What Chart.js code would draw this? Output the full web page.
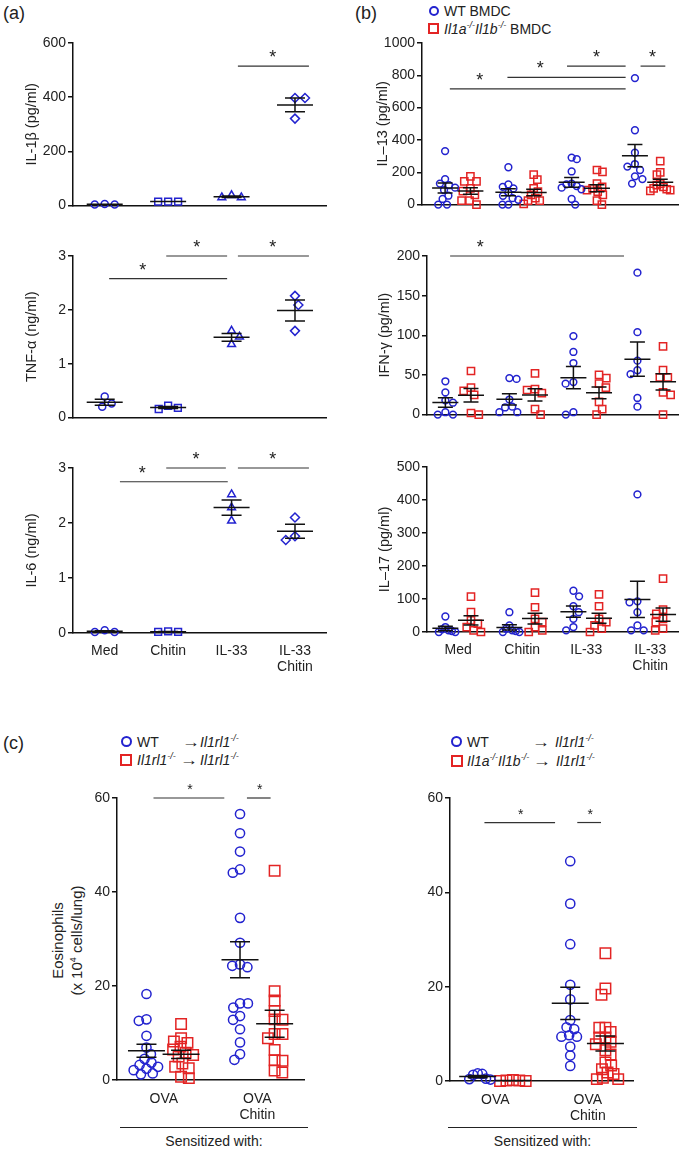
<!DOCTYPE html>
<html>
<head>
<meta charset="utf-8">
<script src="https://cdn.jsdelivr.net/npm/chart.js@4.4.1/dist/chart.umd.min.js"></script>
<style>
  body { margin: 0; background: #fff; }
  #fig { position: relative; width: 686px; height: 1149px; overflow: hidden; font-family: Arial, "Liberation Sans", sans-serif; color: #222; }
  #fig canvas { position: absolute; }
  .txt { position: absolute; white-space: nowrap; line-height: 1; font-size: 14px; }
  .tag { font-size: 18px; }
  .sym { position: absolute; box-sizing: border-box; border: 2.5px solid; }
  .circ { border-radius: 50%; border-color: #2323cf; }
  .sq { border-color: #e32424; }
  sup { font-size: 9px; vertical-align: 0; position: relative; top: -6px; }
  .rule { position: absolute; height: 0; border-top: 1.2px solid #222; }
  .arr { font-size: 15px; transform: scaleX(1.2); transform-origin: left; }
</style>
</head>
<body>
<div id="fig">
  <div class="txt tag" style="left:3px;top:4px">(a)</div>
  <div class="txt tag" style="left:355px;top:4px">(b)</div>
  <div class="txt tag" style="left:3px;top:734px">(c)</div>

  <!-- legend (b) -->
  <div class="sym circ" style="left:429px;top:6px;width:10px;height:10px"></div>
  <div class="txt" style="left:444px;top:4px">WT BMDC</div>
  <div class="sym sq" style="left:428px;top:23px;width:11px;height:11px"></div>
  <div class="txt" style="left:444px;top:22px"><i>Il1a<sup>-/-</sup>Il1b<sup>-/-</sup></i> BMDC</div>

  <!-- legend (c) left -->
  <div class="sym circ" style="left:121px;top:736px;width:11px;height:11px"></div>
  <div class="txt" style="left:137px;top:735px">WT</div>
  <div class="txt arr" style="left:182px;top:734px">→</div>
  <div class="txt" style="left:200px;top:735px"><i>Il1rl1<sup>-/-</sup></i></div>
  <div class="sym sq" style="left:120px;top:754px;width:12px;height:12px"></div>
  <div class="txt" style="left:137px;top:753px"><i>Il1rl1<sup>-/-</sup></i></div>
  <div class="txt arr" style="left:180px;top:752px">→</div>
  <div class="txt" style="left:200px;top:753px"><i>Il1rl1<sup>-/-</sup></i></div>

  <!-- legend (c) right -->
  <div class="sym circ" style="left:451px;top:736px;width:11px;height:11px"></div>
  <div class="txt" style="left:467px;top:735px">WT</div>
  <div class="txt arr" style="left:532px;top:734px">→</div>
  <div class="txt" style="left:555px;top:735px"><i>Il1rl1<sup>-/-</sup></i></div>
  <div class="sym sq" style="left:451px;top:755px;width:12px;height:12px"></div>
  <div class="txt" style="left:467px;top:754px"><i>Il1a<sup>-/-</sup>Il1b<sup>-/-</sup></i></div>
  <div class="txt arr" style="left:533px;top:753px">→</div>
  <div class="txt" style="left:556px;top:754px"><i>Il1rl1<sup>-/-</sup></i></div>

  <div class="txt" style="left:-32px;top:920px;width:200px;line-height:19px;font-size:15px;text-align:center;transform:rotate(-90deg)">Eosinophils<br>(x 10<sup>4</sup> cells/lung)</div>

  <div class="rule" style="left:120px;top:1127px;width:188px"></div>
  <div class="txt" style="left:120px;top:1134px;width:188px;text-align:center">Sensitized with:</div>
  <div class="rule" style="left:448px;top:1127px;width:189px"></div>
  <div class="txt" style="left:448px;top:1134px;width:189px;text-align:center">Sensitized with:</div>
</div>
<script>
const stimuli = ['Med', 'Chitin', 'IL-33', ['IL-33', 'Chitin']];
const sensitizers = ['OVA', ['OVA', 'Chitin']];

// (a) WT BMDC, one list per stimulus
const il1b = [[6, 4, 4], [15, 15, 15], [38, 30, 30], [397, 397, 321]];
const tnf = [[0.39, 0.20, 0.26], [0.22, 0.16, 0.18], [1.61, 1.50, 1.36], [2.26, 2.09, 1.61]];
const il6 = [[0.05, 0.02, 0.02], [0.03, 0.02, 0.02], [2.52, 2.28, 2.04], [2.10, 1.69, 1.76]];

// (b) WT vs Il1a/Il1b deficient BMDC
const il13WT = [
  [331, 158, 130, 120, 105, 90, 55, 35, 0, 0],
  [231, 125, 110, 100, 74, 54, 40, 30, 0, 0],
  [291, 281, 205, 130, 125, 115, 105, 95, 35, 0],
  [783, 460, 321, 251, 235, 214, 175, 158, 130]
];
const il13KO = [
  [175, 144, 144, 100, 84, 60, 24, 24, 0],
  [185, 155, 100, 80, 60, 40, 24, 24, 5],
  [214, 203, 130, 110, 100, 90, 80, 60, 24, 0],
  [269, 199, 185, 130, 120, 110, 100, 95, 90, 85]
];
const ifnWT = [[42, 28, 18, 15, 3, 0, 0], [45, 46, 19, 9, 10, 3, 3], [99, 79, 65, 41, 39, 0, 3], [179, 104, 68, 56, 51, 21, 10]];
const ifnKO = [[55, 34, 30, 25, 0, 2], [52, 32, 31, 27, 0, 7], [50, 46, 39, 34, 16, 7, 0], [86, 56, 47, 47, 28, 25, 0]];
const il17WT = [[47, 15, 8, 5, 3, 0, 0], [60, 20, 10, 5, 3, 0, 0], [125, 108, 78, 60, 40, 15, 5], [417, 93, 90, 60, 20, 5, 5]];
const il17KO = [[107, 60, 35, 25, 15, 5, 0], [119, 75, 40, 30, 15, 5, 0], [114, 78, 40, 30, 20, 10, 0], [162, 68, 55, 40, 30, 10, 5]];

// (c) eosinophils (x10^4 cells/lung), [OVA, OVA+Chitin]
const eoWT1 = [[18.3, 12.9, 12.6, 9.4, 6.9, 5.5, 4.5, 3.7, 3.2, 2.8, 2.4, 2.1, 1.4, 1.2],
  [56.6, 52.5, 48.6, 44.8, 44.1, 34.5, 29.2, 24.6, 24.3, 24.0, 16.3, 16.3, 15.4, 13.6, 12.8, 10.8, 8.0, 5.5, 4.3]];
const eoKO1 = [[11.9, 8.9, 8.2, 7.9, 7.1, 6.5, 5.8, 5.3, 5.0, 3.5, 2.8, 2.5, 0.7, 0.4],
  [44.5, 18.9, 16.9, 14.7, 12.9, 12.8, 9.8, 9.8, 8.9, 6.4, 4.2, 4.1, 2.0, 1.6]];
const eoWT2 = [[1.6, 1.5, 1.3, 0.5, 0.4, 0.3],
  [46.6, 37.6, 29.0, 20.4, 17.3, 12.9, 11.4, 11.0, 9.7, 9.4, 9.4, 7.3, 5.4, 3.2]];
const eoKO2 = [[0.2, 0.1, 0.1, 0, 0],
  [27.1, 19.6, 18.3, 11.3, 11.3, 10.4, 9.2, 9.2, 8.3, 7.8, 6.5, 5.6, 3.9, 3.3, 2.5, 1.8, 1.5, 0.7, 0.4, 0.4]];

// significance bars: [from, to, height, star at] in category units
const il1bSig = [[2.10, 3.22, 515, 2.65]];
const tnfSig = [[0.07, 1.93, 2.58, 0.60], [0.97, 1.93, 3.0, 1.45], [2.10, 3.22, 3.0, 2.65]];
const il6Sig = [[0.24, 1.94, 2.75, 0.59], [0.97, 1.91, 3.0, 1.44], [2.10, 3.22, 3.0, 2.65]];
const il13Sig = [[-0.125, 2.653, 716, 0.346], [0.785, 2.653, 787, 1.303], [1.727, 2.653, 857, 2.193], [2.889, 3.28, 857, 3.077]];
const ifnSig = [[-0.126, 2.59, 200, 0.345]];
const eoSig1 = [[-0.11, 0.647, 60, 0.28], [0.889, 1.142, 60, 1.026]];
const eoSig2 = [[-0.117, 0.646, 54.8, 0.274], [0.886, 1.142, 54.8, 1.025]];

const BLUE = '#2323cf', RED = '#e32424';
const FONT = 'Arial, "Liberation Sans", sans-serif';
Chart.defaults.font.family = FONT;
Chart.defaults.color = '#222';
const fig = document.getElementById('fig');

// simple beeswarm: horizontal pixel offsets so markers don't sit on top of each other,
// squeezed into +-lim px like the overlapping columns of the original
function swarm(vals, pxY, d, lim) {
  const order = vals.map((v, i) => i).sort((a, b) => vals[b] - vals[a]);
  const placed = [];
  const out = new Array(vals.length);
  order.forEach((i, n) => {
    const y = vals[i] * pxY;
    const near = placed.filter(p => Math.abs(p.y - y) < d);
    const cands = [0];
    near.forEach(p => {
      const w = Math.sqrt(d * d - (p.y - y) ** 2);
      cands.push(p.x - w, p.x + w);
    });
    const ok = cands.filter(cx => near.every(p => Math.hypot(p.x - cx, p.y - y) >= d - 0.01));
    ok.sort((a, b) => Math.abs(a) - Math.abs(b) || (n % 2 ? b - a : a - b));
    placed.push({ x: ok[0], y });
    out[i] = ok[0];
  });
  const wide = Math.max(...out.map(Math.abs));
  return wide > lim ? out.map(o => o * lim / wide) : out;
}

function addChart(c) {
  const padTop = 22, padRight = 6;
  const xH = c.labels ? 50 : 6;
  const left = c.axisX - c.yW;
  const top = c.top - padTop;
  const w = c.right + padRight - left;
  const h = c.bottom - top + xH;
  const cv = document.createElement('canvas');
  cv.width = w; cv.height = h;
  Object.assign(cv.style, { left: left + 'px', top: top + 'px', width: w + 'px', height: h + 'px' });
  fig.appendChild(cv);

  const pxY = (c.bottom - c.top) / c.yMax;
  const pxX = (c.right - c.axisX) / (c.xMax - c.xMin);
  const datasets = [];
  c.series.forEach(s => s.groups.forEach((vals, g) => {
    const off = swarm(vals, pxY, c.d, c.lim);
    const shape = s.shapes ? s.shapes[g] : s.shape;
    datasets.push({
      data: vals.map((v, i) => ({ x: g + s.offset + off[i] / pxX, y: v })),
      pointStyle: shape,
      pointRadius: c.radius[shape],
      pointBorderColor: s.color,
      pointBackgroundColor: 'rgba(0,0,0,0)',
      pointBorderWidth: 1.5,
      clip: false
    });
  }));

  const ncat = c.series[0].groups.length;
  const marks = {
    id: 'marks',
    afterDatasetsDraw(chart) {
      const { ctx } = chart;
      const xs = chart.scales.x, ys = chart.scales.y;
      ctx.save();
      ctx.strokeStyle = '#111';
      ctx.lineWidth = 1.5;
      c.series.forEach(s => s.groups.forEach((vals, g) => {
        const n = vals.length;
        const mean = vals.reduce((a, b) => a + b, 0) / n;
        const sem = Math.sqrt(vals.reduce((a, b) => a + (b - mean) ** 2, 0) / (n - 1) / n);
        const cx = xs.getPixelForValue(g + s.offset);
        const ym = ys.getPixelForValue(mean);
        const yHi = ys.getPixelForValue(mean + sem);
        const yLo = ys.getPixelForValue(mean - sem);
        ctx.beginPath();
        ctx.moveTo(cx - c.meanW / 2, ym); ctx.lineTo(cx + c.meanW / 2, ym);
        ctx.moveTo(cx, yHi); ctx.lineTo(cx, yLo);
        ctx.moveTo(cx - c.capW / 2, yHi); ctx.lineTo(cx + c.capW / 2, yHi);
        ctx.moveTo(cx - c.capW / 2, yLo); ctx.lineTo(cx + c.capW / 2, yLo);
        ctx.stroke();
      }));
      ctx.lineWidth = 1.2;
      ctx.strokeStyle = '#333';
      ctx.fillStyle = '#222';
      ctx.font = c.starFont;
      ctx.textAlign = 'center';
      ctx.textBaseline = 'alphabetic';
      c.sig.forEach(([a, b, v, st]) => {
        const yy = ys.getPixelForValue(v);
        ctx.beginPath();
        ctx.moveTo(xs.getPixelForValue(a), yy);
        ctx.lineTo(xs.getPixelForValue(b), yy);
        ctx.stroke();
        ctx.fillText('*', xs.getPixelForValue(st), yy - c.starLift);
      });
      ctx.restore();
    }
  };

  new Chart(cv, {
    type: 'scatter',
    data: { datasets },
    plugins: [marks],
    options: {
      responsive: false,
      animation: false,
      events: [],
      layout: { padding: { top: padTop, right: padRight, left: 0, bottom: 0 } },
      plugins: { legend: { display: false }, tooltip: { enabled: false } },
      scales: {
        x: {
          type: 'linear', min: c.xMin, max: c.xMax,
          afterBuildTicks: sc => { sc.ticks = Array.from({ length: ncat }, (_, i) => ({ value: i })); },
          afterFit: sc => { sc.height = xH; },
          grid: { display: false, drawTicks: false },
          border: { display: true, color: '#111', width: 1.5 },
          ticks: {
            display: !!c.labels, autoSkip: false, maxRotation: 0, padding: c.lblPad || 10,
            color: '#222', font: { size: 14, lineHeight: 1.15 },
            callback: v => (c.labels ? c.labels[v] : '')
          }
        },
        y: {
          min: 0, max: c.yMax,
          afterFit: sc => { sc.width = c.yW; },
          ticks: { stepSize: c.yStep, padding: 2, color: '#222', font: { size: 14 }, callback: v => String(v) },
          grid: { drawOnChartArea: false, drawTicks: true, tickLength: 5, color: '#111', lineWidth: 1.5 },
          border: { display: true, color: '#111', width: 1.5 },
          title: c.title
            ? { display: true, text: c.title, color: '#222', font: { size: 14.5 }, padding: { top: c.titlePad, bottom: 0 } }
            : { display: false }
        }
      }
    }
  });
}

const aShapes = ['circle', 'rect', 'triangle', 'rectRot'];
const aRadius = { circle: 3.5, rect: 4.8, triangle: 4.5, rectRot: 4.5 };
const bRadius = { circle: 3.4, rect: 5.1 };
const cRadius = { circle: 4.6, rect: 7.4 };

const aBase = { axisX: 73, right: 327, yW: 73, xMin: -0.5, xMax: 3.5, titlePad: 23, meanW: 36, capW: 20, d: 10, lim: 20, radius: aRadius,
  starFont: '18px ' + FONT, starLift: 3 };
addChart({ ...aBase, top: 43, bottom: 210, yMax: 600, yStep: 200, title: 'IL-1β (pg/ml)', sig: il1bSig,
  series: [{ groups: il1b, offset: 0, color: BLUE, shapes: aShapes }] });
addChart({ ...aBase, top: 256, bottom: 422, yMax: 3, yStep: 1, title: 'TNF-α (ng/ml)', sig: tnfSig,
  series: [{ groups: tnf, offset: 0, color: BLUE, shapes: aShapes }] });
addChart({ ...aBase, top: 468, bottom: 633, yMax: 3, yStep: 1, title: 'IL-6 (ng/ml)', sig: il6Sig, labels: stimuli, lblPad: 10,
  series: [{ groups: il6, offset: 0, color: BLUE, shapes: aShapes }] });

const bBase = { right: 679, meanW: 26, capW: 15, d: 8, lim: 10, radius: bRadius, starFont: '18px ' + FONT, starLift: 3 };
addChart({ ...bBase, axisX: 422, yW: 77, xMin: -0.565, xMax: 3.487, titlePad: 29, top: 43, bottom: 209, yMax: 1000, yStep: 200,
  title: 'IL–13 (pg/ml)', sig: il13Sig,
  series: [{ groups: il13WT, offset: -0.2, color: BLUE, shape: 'circle' }, { groups: il13KO, offset: 0.2, color: RED, shape: 'rect' }] });
addChart({ ...bBase, axisX: 427, yW: 82, xMin: -0.487, xMax: 3.44, titlePad: 31, top: 256, bottom: 419, yMax: 200, yStep: 50,
  title: 'IFN-γ (pg/ml)', sig: ifnSig,
  series: [{ groups: ifnWT, offset: -0.2, color: BLUE, shape: 'circle' }, { groups: ifnKO, offset: 0.2, color: RED, shape: 'rect' }] });
addChart({ ...bBase, axisX: 427, yW: 82, xMin: -0.487, xMax: 3.44, titlePad: 31, top: 467, bottom: 632, yMax: 500, yStep: 100,
  title: 'IL–17 (pg/ml)', sig: [], labels: stimuli, lblPad: 10,
  series: [{ groups: il17WT, offset: -0.2, color: BLUE, shape: 'circle' }, { groups: il17KO, offset: 0.2, color: RED, shape: 'rect' }] });

const cBase = { meanW: 37, capW: 20, d: 8, lim: 13, radius: cRadius, yMax: 60, yStep: 20, labels: sensitizers, lblPad: 11,
  starFont: '14px ' + FONT, starLift: 4 };
addChart({ ...cBase, axisX: 117, right: 307, yW: 32, xMin: -0.5, xMax: 1.5, top: 798, bottom: 1080, sig: eoSig1,
  series: [{ groups: eoWT1, offset: -0.185, color: BLUE, shape: 'circle' }, { groups: eoKO1, offset: 0.185, color: RED, shape: 'rect' }] });
addChart({ ...cBase, axisX: 450, right: 636, yW: 35, xMin: -0.489, xMax: 1.489, top: 798, bottom: 1081, sig: eoSig2,
  series: [{ groups: eoWT2, offset: -0.19, color: BLUE, shape: 'circle' }, { groups: eoKO2, offset: 0.19, color: RED, shape: 'rect' }] });
</script>
</body>
</html>
